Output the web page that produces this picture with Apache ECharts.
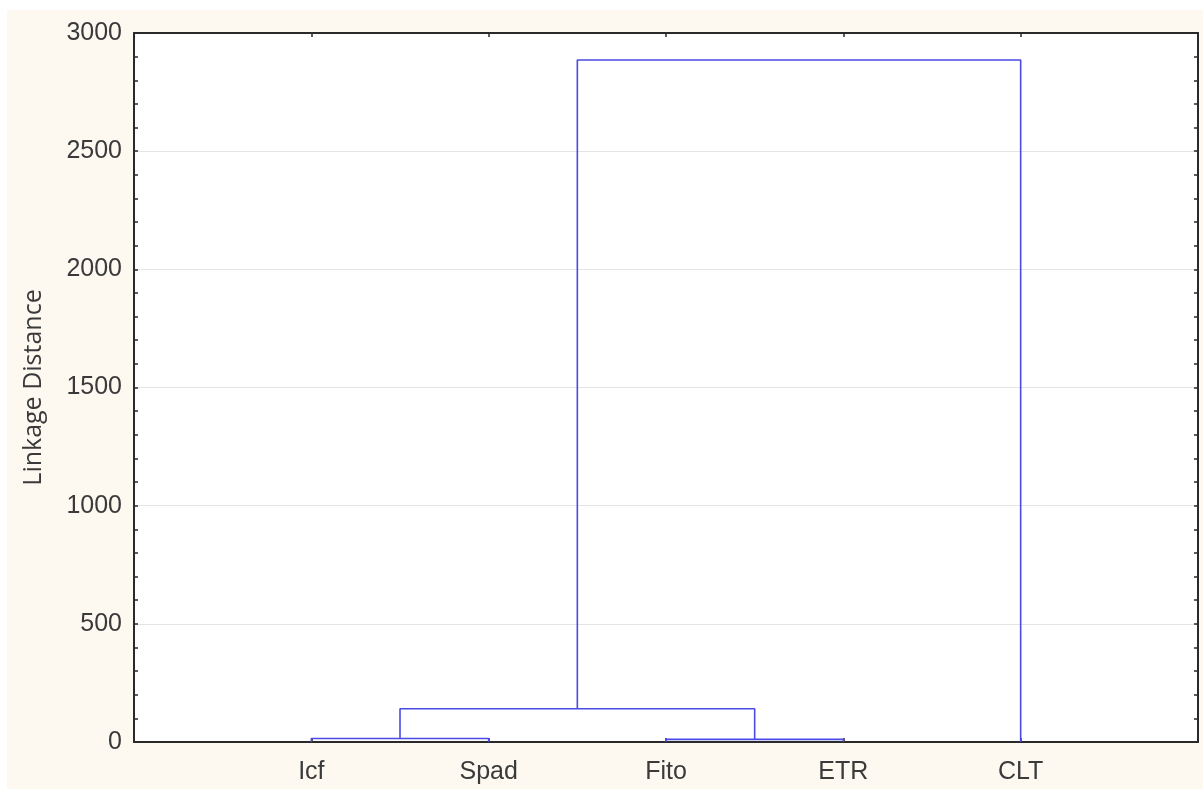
<!DOCTYPE html>
<html>
<head>
<meta charset="utf-8">
<script src="https://cdn.jsdelivr.net/npm/echarts@6/dist/echarts.min.js"></script>
<style>
  html, body { margin: 0; padding: 0; background: #ffffff; width: 1203px; height: 789px; overflow: hidden; }
  #wrap { position: absolute; left: 7px; top: 10px; width: 1196px; height: 779px; background: #fdf9f1; }
  #chart { width: 1196px; height: 779px; }
</style>
</head>
<body>
<div id="wrap"><div id="chart"></div></div>
<script>
// Leaves of the dendrogram (left to right)
const leaves = ['Icf', 'Spad', 'Fito', 'ETR', 'CLT'];
// Merge steps: cluster ids 0..4 are leaves, 5.. are the merges in order
const linkLeft = [0, 2, 5, 7];
const linkRight = [1, 3, 6, 4];
const linkHeight = [15, 11, 141, 2886];
// Y-axis ticks
const yTicks = [0, 500, 1000, 1500, 2000, 2500, 3000];
const yTitle = 'Linkage Distance';

// positions of clusters
const cx = leaves.map((_, i) => i + 1);
const cy = leaves.map(() => 0);
const series = [];
for (let k = 0; k < linkLeft.length; k++) {
  const a = linkLeft[k], b = linkRight[k], h = linkHeight[k];
  series.push({
    type: 'line',
    silent: true,
    symbol: 'none',
    animation: false,
    lineStyle: { color: '#4a4ae8', width: 1.6 },
    data: [[cx[a], cy[a]], [cx[a], h], [cx[b], h], [cx[b], cy[b]]]
  });
  cx.push((cx[a] + cx[b]) / 2);
  cy.push(h);
}

const lineCol = '#2a2a2a';
const labelFont = { fontFamily: 'Liberation Sans, Arial, sans-serif', fontSize: 25, color: '#3a3a3a' };
const chart = echarts.init(document.getElementById('chart'), null, { renderer: 'canvas' });
chart.setOption({
  backgroundColor: 'transparent',
  animation: false,
  grid: [{ left: 127, top: 23, right: 5, bottom: 47, show: true, backgroundColor: '#ffffff', borderWidth: 0 }],
  xAxis: [
    {
      type: 'value', min: 0, max: leaves.length + 1, interval: 1, position: 'bottom',
      axisLine: { show: true, onZero: false, lineStyle: { color: lineCol, width: 2 } },
      axisTick: { show: true, inside: true, length: 4, lineStyle: { color: lineCol, width: 1.5 } },
      splitLine: { show: false },
      axisLabel: Object.assign({
        margin: 18,
        formatter: v => (v >= 1 && v <= leaves.length) ? leaves[v - 1] : ''
      }, labelFont)
    },
    {
      type: 'value', min: 0, max: leaves.length + 1, interval: 1, position: 'top',
      axisLine: { show: true, onZero: false, lineStyle: { color: lineCol, width: 2 } },
      axisTick: { show: true, inside: true, length: 4, lineStyle: { color: lineCol, width: 1.5 } },
      splitLine: { show: false },
      axisLabel: { show: false }
    }
  ],
  yAxis: [
    {
      type: 'value', min: yTicks[0], max: yTicks[yTicks.length - 1], interval: yTicks[1] - yTicks[0],
      position: 'left',
      name: yTitle, nameLocation: 'middle', nameGap: 88, nameRotate: 90,
      nameTextStyle: { fontFamily: 'Open Sans, Liberation Sans, sans-serif', fontSize: 25, color: '#3a3a3a' },
      axisLine: { show: true, onZero: false, lineStyle: { color: lineCol, width: 2 } },
      axisTick: { show: true, inside: true, length: 4, lineStyle: { color: lineCol, width: 1.5 } },
      minorTick: { show: true, splitNumber: 5, length: 4, lineStyle: { color: lineCol, width: 1.5 } },
      splitLine: { show: true, lineStyle: { color: '#e4e4e4', width: 1 } },
      axisLabel: Object.assign({ margin: 12, formatter: v => String(v) }, labelFont)
    },
    {
      type: 'value', min: yTicks[0], max: yTicks[yTicks.length - 1], interval: yTicks[1] - yTicks[0],
      position: 'right',
      axisLine: { show: true, onZero: false, lineStyle: { color: lineCol, width: 2 } },
      axisTick: { show: true, inside: true, length: 4, lineStyle: { color: lineCol, width: 1.5 } },
      minorTick: { show: true, splitNumber: 5, length: 4, lineStyle: { color: lineCol, width: 1.5 } },
      splitLine: { show: false },
      axisLabel: { show: false }
    }
  ],
  series: series
});
</script>
</body>
</html>
